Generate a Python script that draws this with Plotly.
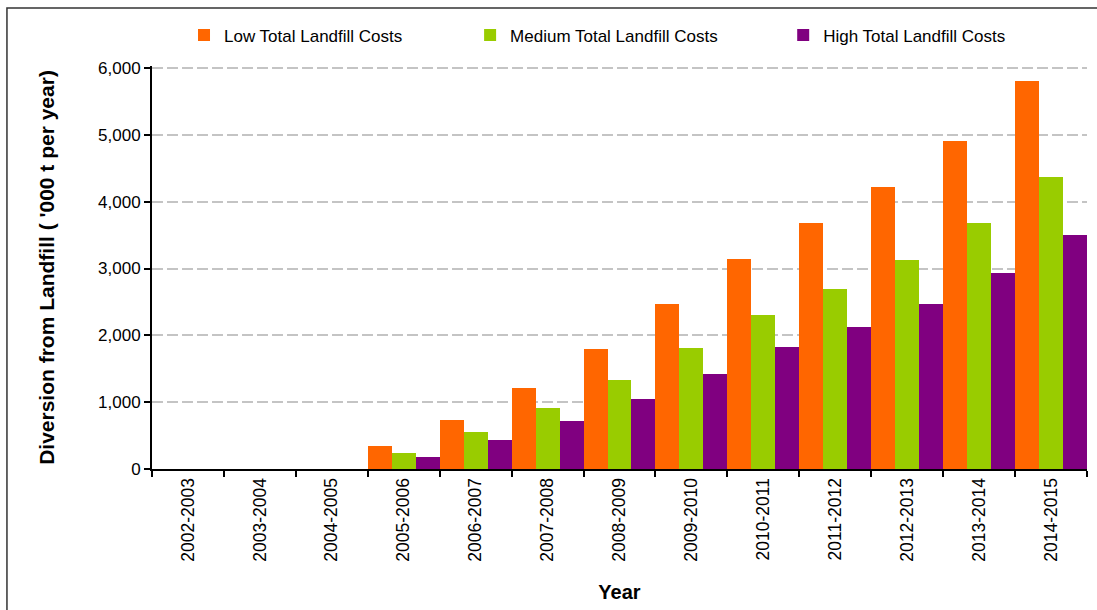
import plotly.graph_objects as go

years = ["2002-2003", "2003-2004", "2004-2005", "2005-2006", "2006-2007", "2007-2008",
         "2008-2009", "2009-2010", "2010-2011", "2011-2012", "2012-2013", "2013-2014", "2014-2015"]
low = [0, 0, 0, 343, 731, 1209, 1791, 2463, 3142, 3679, 4216, 4903, 5799]
medium = [0, 0, 0, 239, 552, 910, 1328, 1806, 2306, 2694, 3127, 3679, 4366]
high = [0, 0, 0, 179, 433, 716, 1045, 1428, 1828, 2127, 2470, 2933, 3500]

series = [
    ("Low Total Landfill Costs", low, "#FF6600", "legend"),
    ("Medium Total Landfill Costs", medium, "#99CC00", "legend2"),
    ("High Total Landfill Costs", high, "#800080", "legend3"),
]

YMAX = 6030
W, H = 1097, 610
L, R, B = 152, 10.3, 140.5
T = 67.7 - (YMAX - 6000) * 401.8 / 6000
pw = W - L - R
ph = H - T - B

def px_x(p):
    return (p - L) / pw

def px_y(p):
    return (H - B - p) / ph

fig = go.Figure()
for name, vals, col, lg in series:
    fig.add_trace(go.Bar(x=years, y=vals, name=name, marker=dict(color=col, line=dict(width=0)),
                         legend=lg))

leg_font = dict(family="Arial, Liberation Sans, sans-serif", size=17, color="#000000")
text_starts = [224, 510, 823]
legs = {}
for i, key in enumerate(["legend", "legend2", "legend3"]):
    legs[key] = dict(x=px_x(text_starts[i] - 40), y=px_y(35), xanchor="left", yanchor="middle",
                     orientation="h", font=leg_font, bgcolor="rgba(0,0,0,0)", borderwidth=0)

fig.update_layout(
    width=W, height=H,
    margin=dict(l=L, r=R, t=T, b=B, autoexpand=False),
    paper_bgcolor="white", plot_bgcolor="white",
    barmode="group", bargap=0, bargroupgap=0,
    font=dict(family="Arial, Liberation Sans, sans-serif", size=17, color="#000000"),
    xaxis=dict(
        type="category", tickangle=-90, tickson="boundaries", ticks="outside", ticklen=6,
        tickwidth=2, tickcolor="#000000", showline=True, linecolor="#000000", linewidth=2,
        showgrid=False, tickfont=dict(size=17.5),
        title=dict(text="<b>Year</b>", font=dict(size=20), standoff=24),
        automargin=False,
    ),
    yaxis=dict(
        range=[0, YMAX], tickvals=[0, 1000, 2000, 3000, 4000, 5000, 6000], tickformat=",d",
        ticks="outside", ticklen=6, tickwidth=2, tickcolor="#000000",
        showline=True, linecolor="#000000", linewidth=2,
        showgrid=True, gridcolor="#c4c4c4", gridwidth=1.5, griddash="11px,4px",
        zeroline=False, tickfont=dict(size=17),
        title=dict(text="<b>Diversion from Landfill ( '000 t per year)</b>", font=dict(size=21), standoff=38),
        automargin=False,
    ),
    showlegend=True,
    **legs,
)

fig.add_shape(type="rect", xref="paper", yref="paper",
              x0=px_x(7), x1=px_x(1110), y0=px_y(630), y1=px_y(7.5),
              line=dict(color="#333333", width=1.5), fillcolor="rgba(0,0,0,0)", layer="below")

fig.write_html("out.html")
